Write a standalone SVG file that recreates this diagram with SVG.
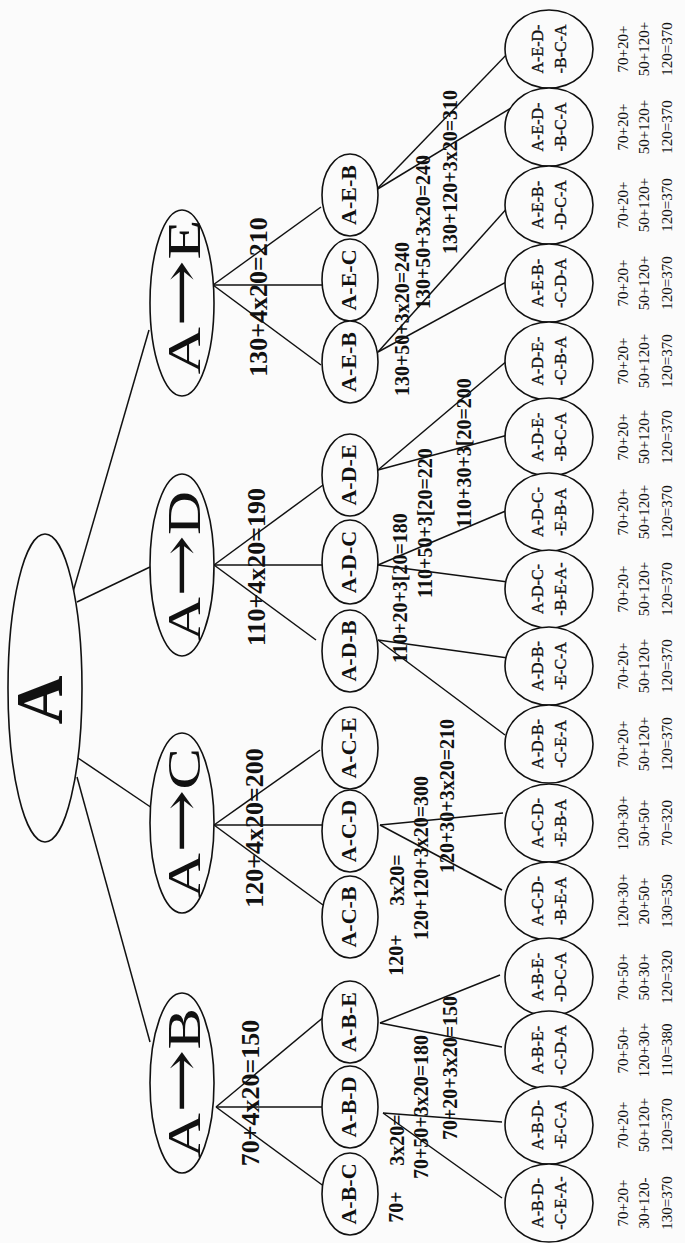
<svg xmlns="http://www.w3.org/2000/svg" width="685" height="1243" viewBox="0 0 685 1243">
<style>
.bg{fill:#fbfbfb}
.n ellipse{fill:#fbfbfb;stroke:#111;stroke-width:1.6}
#edges line{stroke:#111;stroke-width:1.5}
text{font-family:"Liberation Serif","Times New Roman",serif;fill:#111;text-anchor:middle}
.root{font-size:68px;font-weight:bold}
.l1{font-size:46px}
.ar{font-family:"DejaVu Serif","DejaVu Sans",serif;font-size:56px}
.l2{font-size:22px;font-weight:bold}
.l3{font-size:16px;stroke:#111;stroke-width:0.35px}
.cost{font-size:15px}
.w1{font-size:26px;font-weight:bold}
.w2{font-size:20px;font-weight:bold}
</style>
<rect class="bg" x="0" y="0" width="685" height="1243"/>
<g id="edges">
<line x1="73" y1="592" x2="149" y2="330"/>
<line x1="77" y1="602" x2="150" y2="567"/>
<line x1="78" y1="758" x2="152" y2="808"/>
<line x1="77" y1="777" x2="150" y2="1042"/>
<line x1="213" y1="285" x2="321" y2="207"/>
<line x1="213" y1="285" x2="322" y2="285"/>
<line x1="213" y1="285" x2="321" y2="365"/>
<line x1="214" y1="565" x2="323" y2="485"/>
<line x1="214" y1="565" x2="322" y2="565"/>
<line x1="214" y1="565" x2="316" y2="640"/>
<line x1="214" y1="825" x2="320" y2="750"/>
<line x1="214" y1="825" x2="322" y2="825"/>
<line x1="214" y1="825" x2="323" y2="905"/>
<line x1="216" y1="1107" x2="325" y2="1016"/>
<line x1="216" y1="1107" x2="322" y2="1107"/>
<line x1="216" y1="1107" x2="325" y2="1187"/>
<line x1="376" y1="190" x2="511" y2="108"/>
<line x1="376" y1="190" x2="511" y2="50"/>
<line x1="378" y1="352" x2="510" y2="280"/>
<line x1="378" y1="352" x2="510" y2="205"/>
<line x1="378" y1="470" x2="508" y2="435"/>
<line x1="378" y1="470" x2="508" y2="360"/>
<line x1="378" y1="565" x2="508" y2="582"/>
<line x1="378" y1="565" x2="508" y2="510"/>
<line x1="378" y1="640" x2="508" y2="658"/>
<line x1="378" y1="640" x2="505" y2="735"/>
<line x1="380" y1="825" x2="502" y2="890"/>
<line x1="380" y1="825" x2="503" y2="813"/>
<line x1="380" y1="1023" x2="502" y2="1047"/>
<line x1="380" y1="1023" x2="500" y2="975"/>
<line x1="383" y1="1113" x2="502" y2="1198"/>
<line x1="383" y1="1113" x2="502" y2="1122"/>
</g>
<g id="edge-labels">
<text class="w1" transform="translate(267,297) rotate(-90)">130+4x20=210</text>
<text class="w2" transform="translate(409,319) rotate(-90)">130+50+3x20=240</text>
<text class="w2" transform="translate(430,232) rotate(-90)">130+50+3x20=240</text>
<text class="w2" transform="translate(457,172) rotate(-90)">130+120+3x20=310</text>
<text class="w1" transform="translate(265,567) rotate(-90)">110+4x20=190</text>
<text class="w2" transform="translate(407,588) rotate(-90)">110+20+3[20=180</text>
<text class="w2" transform="translate(432,523) rotate(-90)">110+50+3[20=220</text>
<text class="w2" transform="translate(471,453) rotate(-90)">110+30+3[20=200</text>
<text class="w1" transform="translate(263,828) rotate(-90)">120+4x20=200</text>
<text class="w2" transform="translate(403,955) rotate(-90)">120+</text>
<text class="w2" transform="translate(404,880) rotate(-90)">3x20=</text>
<text class="w2" transform="translate(428,858) rotate(-90)">120+120+3x20=300</text>
<text class="w2" transform="translate(454,796) rotate(-90)">120+30+3x20=210</text>
<text class="w1" transform="translate(259,1093) rotate(-90)">70+4x20=150</text>
<text class="w2" transform="translate(403,1207) rotate(-90)">70+</text>
<text class="w2" transform="translate(404,1140) rotate(-90)">3x20=</text>
<text class="w2" transform="translate(428,1107) rotate(-90)">70+50+3x20=180</text>
<text class="w2" transform="translate(457,1068) rotate(-90)">70+20+3x20=150</text>
</g>
<g id="root" class="n"><ellipse cx="45" cy="688" rx="37" ry="154"/><text class="root" transform="translate(62,700) rotate(-90)">A</text></g>
<g id="AE" class="n"><ellipse cx="182" cy="303" rx="32" ry="93"/><text class="l1" transform="translate(200,297) rotate(-90)" textLength="155" lengthAdjust="spacingAndGlyphs">A<tspan class="ar">→</tspan>E</text></g>
<g id="AD" class="n"><ellipse cx="182" cy="565" rx="32" ry="91"/><text class="l1" transform="translate(200,566) rotate(-90)" textLength="150" lengthAdjust="spacingAndGlyphs">A<tspan class="ar">→</tspan>D</text></g>
<g id="AC" class="n"><ellipse cx="182" cy="823" rx="32" ry="90"/><text class="l1" transform="translate(200,823) rotate(-90)" textLength="150" lengthAdjust="spacingAndGlyphs">A<tspan class="ar">→</tspan>C</text></g>
<g id="AB" class="n"><ellipse cx="182" cy="1083" rx="32" ry="90"/><text class="l1" transform="translate(200,1083) rotate(-90)" textLength="150" lengthAdjust="spacingAndGlyphs">A<tspan class="ar">→</tspan>B</text></g>
<g id="AEB1" class="n"><ellipse cx="350" cy="195" rx="28" ry="41"/><text class="l2" transform="translate(356,195) rotate(-90)">A-E-B</text></g>
<g id="AEC" class="n"><ellipse cx="350" cy="280" rx="28" ry="41"/><text class="l2" transform="translate(356,280) rotate(-90)">A-E-C</text></g>
<g id="AEB2" class="n"><ellipse cx="350" cy="362" rx="28" ry="41"/><text class="l2" transform="translate(356,362) rotate(-90)">A-E-B</text></g>
<g id="ADE" class="n"><ellipse cx="350" cy="475" rx="28" ry="41"/><text class="l2" transform="translate(356,475) rotate(-90)">A-D-E</text></g>
<g id="ADC" class="n"><ellipse cx="350" cy="562" rx="28" ry="42"/><text class="l2" transform="translate(356,562) rotate(-90)">A-D-C</text></g>
<g id="ADB" class="n"><ellipse cx="350" cy="651" rx="28" ry="41"/><text class="l2" transform="translate(356,651) rotate(-90)">A-D-B</text></g>
<g id="ACE" class="n"><ellipse cx="350" cy="748" rx="28" ry="41"/><text class="l2" transform="translate(356,748) rotate(-90)">A-C-E</text></g>
<g id="ACD" class="n"><ellipse cx="350" cy="831" rx="28" ry="41"/><text class="l2" transform="translate(356,831) rotate(-90)">A-C-D</text></g>
<g id="ACB" class="n"><ellipse cx="350" cy="917" rx="28" ry="41"/><text class="l2" transform="translate(356,917) rotate(-90)">A-C-B</text></g>
<g id="ABE" class="n"><ellipse cx="350" cy="1022" rx="28" ry="41"/><text class="l2" transform="translate(356,1022) rotate(-90)">A-B-E</text></g>
<g id="ABD" class="n"><ellipse cx="350" cy="1107" rx="28" ry="41"/><text class="l2" transform="translate(356,1107) rotate(-90)">A-B-D</text></g>
<g id="ABC" class="n"><ellipse cx="350" cy="1194" rx="28" ry="41"/><text class="l2" transform="translate(356,1194) rotate(-90)">A-B-C</text></g>
<g id="p1" class="n"><ellipse cx="549" cy="49" rx="44" ry="39"/><text class="l3" transform="translate(543,49) rotate(-90)">A-E-D-</text><text class="l3" transform="translate(566,49) rotate(-90)">-B-C-A</text><text class="cost" transform="translate(628,49) rotate(-90)">70+20+</text><text class="cost" transform="translate(649,49) rotate(-90)">50+120+</text><text class="cost" transform="translate(672,49) rotate(-90)">120=370</text></g>
<g id="p2" class="n"><ellipse cx="549" cy="127" rx="44" ry="39"/><text class="l3" transform="translate(543,127) rotate(-90)">A-E-D-</text><text class="l3" transform="translate(566,127) rotate(-90)">-B-C-A</text><text class="cost" transform="translate(628,127) rotate(-90)">70+20+</text><text class="cost" transform="translate(649,127) rotate(-90)">50+120+</text><text class="cost" transform="translate(672,127) rotate(-90)">120=370</text></g>
<g id="p3" class="n"><ellipse cx="549" cy="205" rx="44" ry="39"/><text class="l3" transform="translate(543,205) rotate(-90)">A-E-B-</text><text class="l3" transform="translate(566,205) rotate(-90)">-D-C-A</text><text class="cost" transform="translate(628,205) rotate(-90)">70+20+</text><text class="cost" transform="translate(649,205) rotate(-90)">50+120+</text><text class="cost" transform="translate(672,205) rotate(-90)">120=370</text></g>
<g id="p4" class="n"><ellipse cx="549" cy="283" rx="44" ry="39"/><text class="l3" transform="translate(543,283) rotate(-90)">A-E-B-</text><text class="l3" transform="translate(566,283) rotate(-90)">-C-D-A</text><text class="cost" transform="translate(628,283) rotate(-90)">70+20+</text><text class="cost" transform="translate(649,283) rotate(-90)">50+120+</text><text class="cost" transform="translate(672,283) rotate(-90)">120=370</text></g>
<g id="p5" class="n"><ellipse cx="549" cy="361" rx="44" ry="39"/><text class="l3" transform="translate(543,361) rotate(-90)">A-D-E-</text><text class="l3" transform="translate(566,361) rotate(-90)">-C-B-A</text><text class="cost" transform="translate(628,361) rotate(-90)">70+20+</text><text class="cost" transform="translate(649,361) rotate(-90)">50+120+</text><text class="cost" transform="translate(672,361) rotate(-90)">120=370</text></g>
<g id="p6" class="n"><ellipse cx="549" cy="437" rx="44" ry="39"/><text class="l3" transform="translate(543,437) rotate(-90)">A-D-E-</text><text class="l3" transform="translate(566,437) rotate(-90)">-B-C-A</text><text class="cost" transform="translate(628,437) rotate(-90)">70+20+</text><text class="cost" transform="translate(649,437) rotate(-90)">50+120+</text><text class="cost" transform="translate(672,437) rotate(-90)">120=370</text></g>
<g id="p7" class="n"><ellipse cx="549" cy="512" rx="44" ry="39"/><text class="l3" transform="translate(543,512) rotate(-90)">A-D-C-</text><text class="l3" transform="translate(566,512) rotate(-90)">-E-B-A</text><text class="cost" transform="translate(628,512) rotate(-90)">70+20+</text><text class="cost" transform="translate(649,512) rotate(-90)">50+120+</text><text class="cost" transform="translate(672,512) rotate(-90)">120=370</text></g>
<g id="p8" class="n"><ellipse cx="549" cy="589" rx="44" ry="39"/><text class="l3" transform="translate(543,589) rotate(-90)">A-D-C-</text><text class="l3" transform="translate(566,589) rotate(-90)">-B-E-A-</text><text class="cost" transform="translate(628,589) rotate(-90)">70+20+</text><text class="cost" transform="translate(649,589) rotate(-90)">50+120+</text><text class="cost" transform="translate(672,589) rotate(-90)">120=370</text></g>
<g id="p9" class="n"><ellipse cx="549" cy="666" rx="44" ry="39"/><text class="l3" transform="translate(543,666) rotate(-90)">A-D-B-</text><text class="l3" transform="translate(566,666) rotate(-90)">-E-C-A</text><text class="cost" transform="translate(628,666) rotate(-90)">70+20+</text><text class="cost" transform="translate(649,666) rotate(-90)">50+120+</text><text class="cost" transform="translate(672,666) rotate(-90)">120=370</text></g>
<g id="p10" class="n"><ellipse cx="549" cy="744" rx="44" ry="39"/><text class="l3" transform="translate(543,744) rotate(-90)">A-D-B-</text><text class="l3" transform="translate(566,744) rotate(-90)">-C-E-A</text><text class="cost" transform="translate(628,744) rotate(-90)">70+20+</text><text class="cost" transform="translate(649,744) rotate(-90)">50+120+</text><text class="cost" transform="translate(672,744) rotate(-90)">120=370</text></g>
<g id="p11" class="n"><ellipse cx="549" cy="823" rx="44" ry="39"/><text class="l3" transform="translate(543,823) rotate(-90)">A-C-D-</text><text class="l3" transform="translate(566,823) rotate(-90)">-E-B-A</text><text class="cost" transform="translate(628,823) rotate(-90)">120+30+</text><text class="cost" transform="translate(649,823) rotate(-90)">50+50+</text><text class="cost" transform="translate(672,823) rotate(-90)">70=320</text></g>
<g id="p12" class="n"><ellipse cx="549" cy="901" rx="44" ry="39"/><text class="l3" transform="translate(543,901) rotate(-90)">A-C-D-</text><text class="l3" transform="translate(566,901) rotate(-90)">-B-E-A</text><text class="cost" transform="translate(628,901) rotate(-90)">120+30+</text><text class="cost" transform="translate(649,901) rotate(-90)">20+50+</text><text class="cost" transform="translate(672,901) rotate(-90)">130=350</text></g>
<g id="p13" class="n"><ellipse cx="549" cy="977" rx="44" ry="39"/><text class="l3" transform="translate(543,977) rotate(-90)">A-B-E-</text><text class="l3" transform="translate(566,977) rotate(-90)">-D-C-A</text><text class="cost" transform="translate(628,977) rotate(-90)">70+50+</text><text class="cost" transform="translate(649,977) rotate(-90)">50+30+</text><text class="cost" transform="translate(672,977) rotate(-90)">120=320</text></g>
<g id="p14" class="n"><ellipse cx="549" cy="1050" rx="44" ry="39"/><text class="l3" transform="translate(543,1050) rotate(-90)">A-B-E-</text><text class="l3" transform="translate(566,1050) rotate(-90)">-C-D-A</text><text class="cost" transform="translate(628,1050) rotate(-90)">70+50+</text><text class="cost" transform="translate(649,1050) rotate(-90)">120+30+</text><text class="cost" transform="translate(672,1050) rotate(-90)">110=380</text></g>
<g id="p15" class="n"><ellipse cx="549" cy="1125" rx="44" ry="39"/><text class="l3" transform="translate(543,1125) rotate(-90)">A-B-D-</text><text class="l3" transform="translate(566,1125) rotate(-90)">-E-C-A</text><text class="cost" transform="translate(628,1125) rotate(-90)">70+20+</text><text class="cost" transform="translate(649,1125) rotate(-90)">50+120+</text><text class="cost" transform="translate(672,1125) rotate(-90)">120=370</text></g>
<g id="p16" class="n"><ellipse cx="549" cy="1203" rx="44" ry="39"/><text class="l3" transform="translate(543,1203) rotate(-90)">A-B-D-</text><text class="l3" transform="translate(566,1203) rotate(-90)">-C-E-A-</text><text class="cost" transform="translate(628,1203) rotate(-90)">70+20+</text><text class="cost" transform="translate(649,1203) rotate(-90)">30+120-</text><text class="cost" transform="translate(672,1203) rotate(-90)">130=370</text></g>
</svg>
